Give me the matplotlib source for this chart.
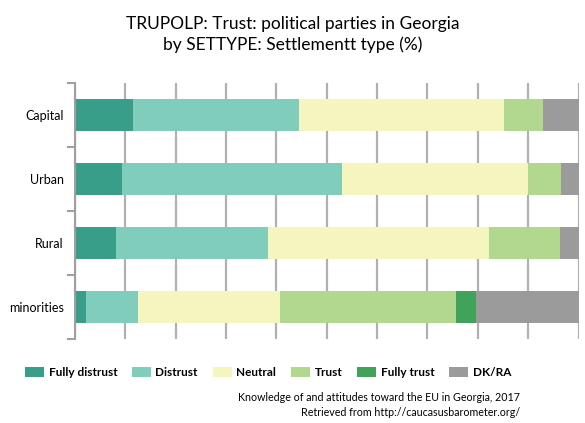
import matplotlib.pyplot as plt
import numpy as np

plt.rcParams['font.family'] = ['Lato', 'DejaVu Sans']

# survey shares (%) per settlement type
categories = ['Capital', 'Urban', 'Rural', 'minorities']
answers = ['Fully distrust', 'Distrust', 'Neutral', 'Trust', 'Fully trust', 'DK/RA']
fully_distrust = [11.6, 9.4, 8.2, 2.2]
distrust = [32.9, 43.6, 30.2, 10.3]
neutral = [40.7, 36.9, 43.8, 28.2]
trust = [7.7, 6.6, 14.1, 34.9]
fully_trust = [0.0, 0.0, 0.0, 4.0]
dk_ra = [7.1, 3.5, 3.7, 20.4]
colors = ['#389e8a', '#80cdbb', '#f5f5c0', '#b2d78f', '#41a35a', '#9b9b9b']

series = [fully_distrust, distrust, neutral, trust, fully_trust, dk_ra]

fig = plt.figure(figsize=(5.85, 4.23), dpi=100)
ax = fig.add_axes([0.1277, 0.1986, 0.8615, 0.606])

y = np.arange(len(categories))
left = np.zeros(len(categories))
for vals, name, c in zip(series, answers, colors):
    ax.barh(y, vals, left=left, height=0.5, color=c, label=name, zorder=2)
    left += np.array(vals)

ax.set_xlim(0, 100)
ax.set_ylim(len(categories) - 0.5, -0.5)
ax.set_xticks(np.arange(0, 101, 10))
ax.tick_params(axis='x', length=0, labelbottom=False)
ax.grid(axis='x', color='#b0b0b0', linewidth=1.6, zorder=0)

# ticks on category borders, labels in the middle
ax.set_yticks(np.arange(-0.5, len(categories), 1))
ax.set_yticklabels([])
ax.set_yticks(y, minor=True)
ax.set_yticklabels(categories, minor=True, fontsize=9)
ax.tick_params(axis='y', which='major', length=6, color='#a0a0a0', width=1.5)
ax.tick_params(axis='y', which='minor', length=0, pad=8)

for s in ['top', 'right', 'bottom']:
    ax.spines[s].set_visible(False)
ax.spines['left'].set_color('#a0a0a0')
ax.spines['left'].set_linewidth(1.5)

fig.text(0.5, 0.962, 'TRUPOLP: Trust: political parties in Georgia\nby SETTYPE: Settlementt type (%)',
         ha='center', va='top', fontsize=12.5, linespacing=1.3)

leg = fig.legend(loc='center', bbox_to_anchor=(0.458, 0.12), ncol=6, frameon=False,
                 handlelength=1.6, handleheight=0.9, handletextpad=0.4, columnspacing=1.25,
                 prop={'weight': 'bold', 'size': 8.5})

fig.text(0.889, 0.043, 'Knowledge of and attitudes toward the EU in Georgia, 2017\nRetrieved from http://caucasusbarometer.org/',
         ha='right', va='center', fontsize=7.7, linespacing=1.45)

plt.savefig('out.png', dpi=100)
